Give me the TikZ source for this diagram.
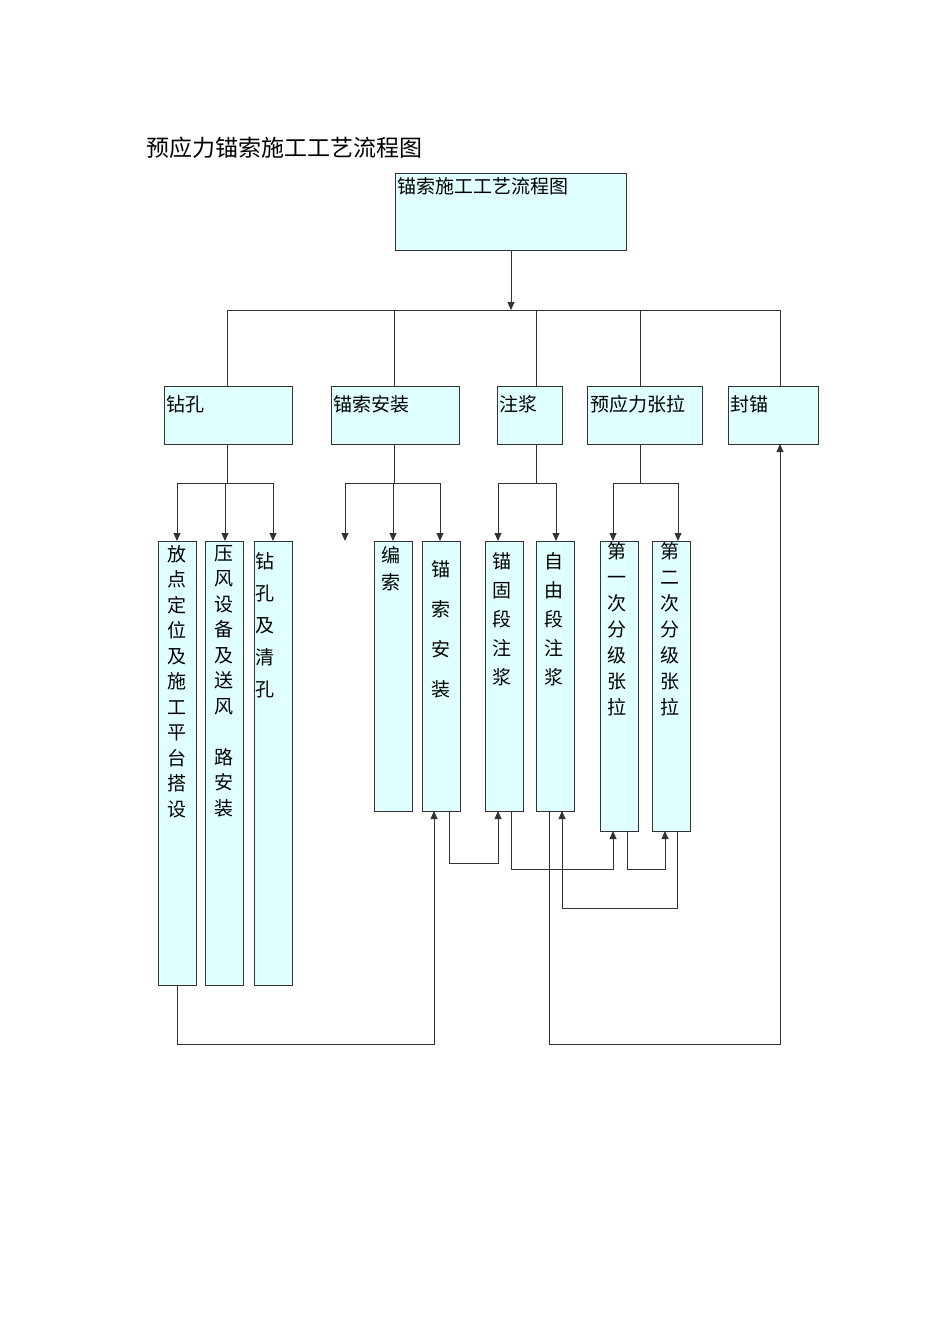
\documentclass[tikz,border=0pt]{standalone}
\usepackage{fontspec}
\newfontfamily\cjk{Noto Sans CJK SC}
\usepackage{tikz}
\usetikzlibrary{arrows.meta}
\definecolor{boxfill}{HTML}{E0FFFF}
\tikzset{
  box/.style={draw=black!80, fill=boxfill, line width=0.9pt},
  lbl/.style={anchor=north west, inner sep=1pt, font={\cjk\fontsize{19}{22}\selectfont}},
  vlbl/.style={anchor=north, inner sep=0pt, align=center, font={\cjk\fontsize{19}{#1}\selectfont}},
  line/.style={line width=0.9pt, draw=black!80},
  arr/.style={line, -{Triangle[length=8pt,width=7pt]}},
}
\begin{document}
\begin{tikzpicture}[x=1pt,y=-1pt]
		\useasboundingbox (0,0) rectangle (950,1344);
		\node[anchor=west, font={\cjk\fontsize{23}{26}\selectfont}] (title) at (143,148) {预应力锚索施工工艺流程图};
		
		% boxes
		\draw[box] (395,173) rectangle (626,250);
		\node[lbl] (top) at (396,176) {锚索施工工艺流程图};
		\draw[box] (164,386) rectangle (292,444);
		\node[lbl] (zk) at (165,394) {钻孔};
		\draw[box] (331,386) rectangle (459,444);
		\node[lbl] (maz) at (332,394) {锚索安装};
		\draw[box] (497,386) rectangle (562,444);
		\node[lbl] (zj) at (498,394) {注浆};
		\draw[box] (587,386) rectangle (702,444);
		\node[lbl] (yl) at (589,394) {预应力张拉};
		\draw[box] (728,386) rectangle (818,444);
		\node[lbl] (fm) at (729,394) {封锚};
		
		\foreach \a/\b/\c in {158/196/985, 205/243/985, 254/292/985, 374/412/811, 422/460/811, 485/523/811, 536/574/811, 600/638/831, 652/690/831}{
			\draw[box] (\a,541) rectangle (\b,\c);
		}
		\node[vlbl=25.5] (fd) at (177,545) {放\\点\\定\\位\\及\\施\\工\\平\\台\\搭\\设};
		\node[vlbl=25.5] (yf) at (224,545) {压\\风\\设\\备\\及\\送\\风\\~\\路\\安\\装};
		\node[vlbl=32] (qk) at (265,552) {钻\\孔\\及\\清\\孔};
		\node[vlbl=27] (bs) at (391,546) {编\\索};
		\node[vlbl=40] (sa) at (441,560) {锚\\索\\安\\装};
		\node[vlbl=29] (mg) at (502,552) {锚\\固\\段\\注\\浆};
		\node[vlbl=29] (zy) at (554,552) {自\\由\\段\\注\\浆};
		\node[vlbl=26] (d1) at (617,542) {第\\一\\次\\分\\级\\张\\拉};
		\node[vlbl=26] (d2) at (670,542) {第\\二\\次\\分\\级\\张\\拉};
		
		% top level
		\draw[arr] (511,250) -- (511,310);
		\draw[line] (227,310) -- (780,310);
		\foreach \x in {227,394,536,640,780}{
			\draw[line] (\x,310) -- (\x,386);
		}
		
		% branches
		\draw[line] (227,444) -- (227,483);
		\draw[line] (177,483) -- (273,483);
		\foreach \x in {177,225,273}{ \draw[arr] (\x,483) -- (\x,541); }
		\draw[line] (394,444) -- (394,483);
		\draw[line] (345,483) -- (440,483);
		\foreach \x in {345,393,440}{ \draw[arr] (\x,483) -- (\x,541); }
		\draw[line] (536,444) -- (536,483);
		\draw[line] (498,483) -- (556,483);
		\foreach \x in {498,556}{ \draw[arr] (\x,483) -- (\x,541); }
		\draw[line] (640,444) -- (640,483);
		\draw[line] (613,483) -- (678,483);
		\foreach \x in {613,678}{ \draw[arr] (\x,483) -- (\x,541); }
		
		% bottom links
		\draw[arr] (177,985) -- (177,1044) -- (434,1044) -- (434,811);
		\draw[arr] (449,811) -- (449,863) -- (498,863) -- (498,811);
		\draw[arr] (511,811) -- (511,869) -- (613,869) -- (613,831);
		\draw[arr] (627,831) -- (627,869) -- (665,869) -- (665,831);
		\draw[arr] (677,831) -- (677,908) -- (562,908) -- (562,811);
		\draw[arr] (549,811) -- (549,1044) -- (780,1044) -- (780,444);
\end{tikzpicture}
\end{document}
